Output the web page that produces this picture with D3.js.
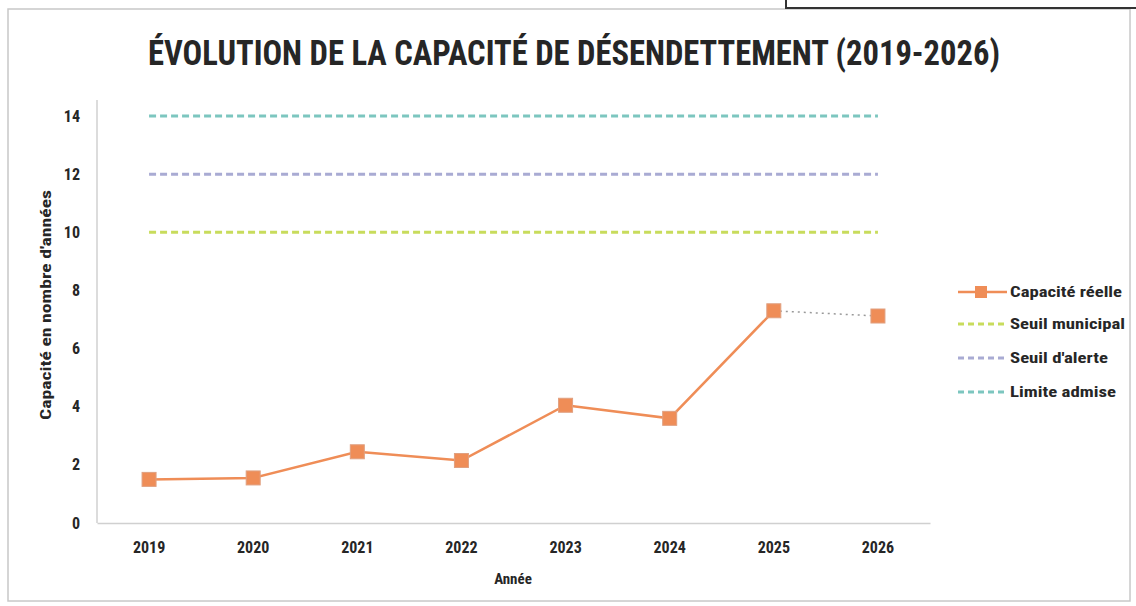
<!DOCTYPE html>
<html><head><meta charset="utf-8">
<script src="https://cdn.jsdelivr.net/npm/d3@7"></script>
<style>
body{margin:0;background:#fff;}
text{font-family:"Liberation Sans Narrow","Roboto Condensed","Noto Sans","Liberation Sans",sans-serif;font-weight:bold;fill:#262626;}
</style></head>
<body><svg id="c" width="1136" height="606"></svg>
<script>
const years = ["2019","2020","2021","2022","2023","2024","2025","2026"];
const capaciteReelle = [1.5, 1.55, 2.45, 2.15, 4.05, 3.6, 7.3, 7.12];
const seuilMunicipal = [10,10,10,10,10,10,10,10];
const seuilAlerte = [12,12,12,12,12,12,12,12];
const limiteAdmise = [14,14,14,14,14,14,14,14];
const yTicks = [0,2,4,6,8,10,12,14];
const seriesNames = ["Capacité réelle","Seuil municipal","Seuil d'alerte","Limite admise"];
const colors = ["#ef8d57","#c8dc5c","#a9abd3","#7cc6bf"];

const svg = d3.select("#c");
// frame
svg.append("rect").attr("x",8).attr("y",9).attr("width",1122).attr("height",592)
  .attr("fill","none").attr("stroke","#c8c8c8").attr("stroke-width",1.5);
svg.append("rect").attr("x",786).attr("y",-4).attr("width",360).attr("height",12)
  .attr("fill","none").attr("stroke","#333").attr("stroke-width",2);

const x = d3.scaleBand().domain(years).range([97,930]);
const y = d3.scaleLinear().domain([0,14]).range([523,116]);
const cx = d => x(d)+x.bandwidth()/2;

// title
svg.append("text").attr("x",574).attr("y",65).attr("text-anchor","middle")
  .attr("font-size",35).attr("textLength",852).attr("lengthAdjust","spacingAndGlyphs")
  .text("ÉVOLUTION DE LA CAPACITÉ DE DÉSENDETTEMENT (2019-2026)");

// axes
const yAxis = d3.axisLeft(y).tickValues(yTicks).tickSize(0).tickPadding(17);
const gy = svg.append("g").attr("transform","translate(97,0)").call(yAxis);
gy.select(".domain").attr("stroke","#d0d0d0").attr("stroke-width",1.5).attr("d","M0,100V523");
gy.selectAll("text").attr("font-size",16).attr("font-family",null).attr("fill","#262626");

const xAxis = d3.axisBottom(x).tickSize(0).tickPadding(19);
const gx = svg.append("g").attr("transform","translate(0,523)").call(xAxis);
gx.select(".domain").attr("stroke","#d0d0d0").attr("stroke-width",1.5);
gx.selectAll("text").attr("font-size",16).attr("font-family",null).attr("fill","#262626");

svg.append("text").attr("transform","translate(51,305) rotate(-90)").attr("text-anchor","middle")
  .attr("font-size",15).attr("textLength",230).attr("lengthAdjust","spacingAndGlyphs")
  .text("Capacité en nombre d'années");
svg.append("text").attr("x",513).attr("y",584).attr("text-anchor","middle")
  .attr("font-size",15).text("Année");

// threshold lines
const line = d3.line().x((d,i)=>cx(years[i])).y(d=>y(d));
[[seuilMunicipal,colors[1]],[seuilAlerte,colors[2]],[limiteAdmise,colors[3]]].forEach(([vals,c])=>{
  svg.append("path").datum(vals).attr("d",line).attr("fill","none")
    .attr("stroke",c).attr("stroke-width",3).attr("stroke-dasharray","7,4");
});

// capacité réelle
svg.append("path").datum(capaciteReelle.slice(0,7)).attr("d",line).attr("fill","none")
  .attr("stroke",colors[0]).attr("stroke-width",2.5);
svg.append("path").datum(capaciteReelle.slice(6)).attr("d",d3.line().x((d,i)=>cx(years[i+6])).y(d=>y(d)))
  .attr("fill","none").attr("stroke","#999").attr("stroke-width",1.5).attr("stroke-dasharray","2,4");
svg.selectAll(".mk").data(capaciteReelle).enter().append("rect")
  .attr("x",(d,i)=>cx(years[i])-7).attr("y",d=>y(d)-7).attr("width",14).attr("height",14)
  .attr("fill",colors[0]).attr("stroke","#e0a080").attr("stroke-width",1);

// legend
const ly = [292,324,358,392];
const lw = [112,115,98,106];
seriesNames.forEach((n,i)=>{
  const g = svg.append("g");
  if(i===0){
    g.append("line").attr("x1",958).attr("x2",1007).attr("y1",ly[i]).attr("y2",ly[i])
      .attr("stroke",colors[0]).attr("stroke-width",2.5);
    g.append("rect").attr("x",975).attr("y",ly[i]-6).attr("width",12).attr("height",12).attr("fill",colors[0]);
  } else {
    g.append("line").attr("x1",958).attr("x2",1007).attr("y1",ly[i]).attr("y2",ly[i])
      .attr("stroke",colors[i]).attr("stroke-width",3).attr("stroke-dasharray","6,4");
  }
  g.append("text").attr("x",1010).attr("y",ly[i]+5).attr("font-size",15)
    .attr("textLength",lw[i]).attr("lengthAdjust","spacingAndGlyphs").text(n);
});
</script></body></html>
